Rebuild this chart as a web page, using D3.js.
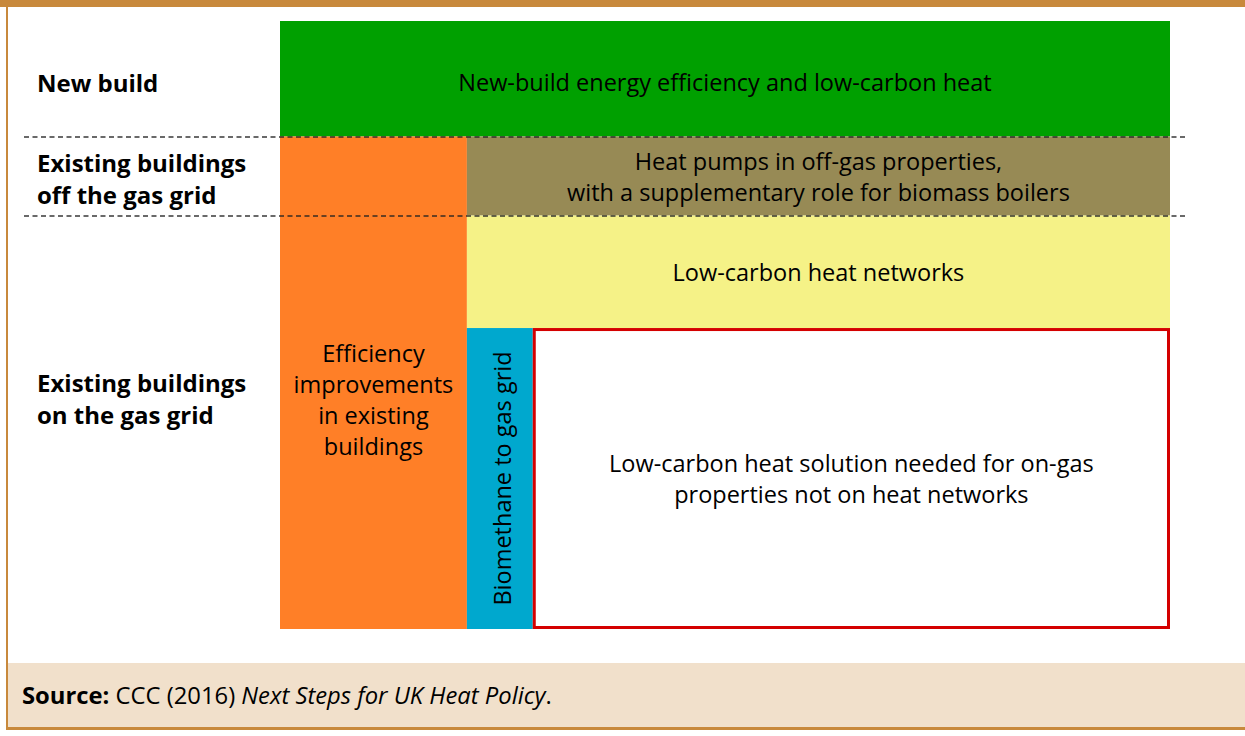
<!DOCTYPE html>
<html>
<head>
<meta charset="utf-8">
<script src="https://cdn.jsdelivr.net/npm/d3@7"></script>
<style>
  html, body { margin: 0; padding: 0; background: #fff; }
  svg { display: block; }
  text { font-family: "Open Sans", "DejaVu Sans", sans-serif; fill: #000; }
</style>
</head>
<body>
<svg id="chart" width="1245" height="736"></svg>
<script>
// ---- Data ----
const rowLabels = [
  ["New build"],
  ["Existing buildings", "off the gas grid"],
  ["Existing buildings", "on the gas grid"]
];
// row boundaries (share of diagram height, 0-100)
const rowBreaks = [0, 19, 32, 100];

const blockNames = ["newbuild", "efficiency", "heatpumps", "networks", "biomethane", "solution"];
const blockX0 = [0, 0, 21, 21, 21, 28.4];
const blockX1 = [100, 21, 100, 100, 28.4, 100];
const blockY0 = [0, 19, 19, 32, 50.5, 50.5];
const blockY1 = [19, 100, 32, 50.5, 100, 100];
const blockColors = ["#00A000", "#FF7F27", "#978A55", "#F5F287", "#00A8CE", "#FFFFFF"];
const blockText = [
  ["New-build energy efficiency and low-carbon heat"],
  ["Efficiency", "improvements", "in existing", "buildings"],
  ["Heat pumps in off-gas properties,", "with a supplementary role for biomass boilers"],
  ["Low-carbon heat networks"],
  ["Biomethane to gas grid"],
  ["Low-carbon heat solution needed for on-gas", "properties not on heat networks"]
];
const blockVertical = [false, false, false, false, true, false];
const blockOutline = [null, null, null, null, null, "#D40000"];
const sourceLabel = "Source:";
const sourceText = "CCC (2016) ";
const sourceTitle = "Next Steps for UK Heat Policy";

// ---- Layout ----
const svg = d3.select("#chart");
const W = 1245, H = 736;
const border = "#C8893C";

const x = d3.scaleLinear().domain([0, 100]).range([280, 1170]);
const y = d3.scaleLinear().domain([0, 100]).range([21, 629]);

// frame
svg.append("rect").attr("x", 0).attr("y", 0).attr("width", W).attr("height", 7).attr("fill", border);
svg.append("rect").attr("x", 8).attr("y", 663).attr("width", W - 8).attr("height", 65).attr("fill", "#F1E0CB");
svg.append("rect").attr("x", 6).attr("y", 0).attr("width", 2).attr("height", 730).attr("fill", border);
svg.append("rect").attr("x", 6).attr("y", 727).attr("width", W - 6).attr("height", 3).attr("fill", border);

// blocks
const blocks = blockNames.map((n, i) => ({
  name: n, x0: blockX0[i], x1: blockX1[i], y0: blockY0[i], y1: blockY1[i],
  color: blockColors[i], text: blockText[i], vertical: blockVertical[i], outline: blockOutline[i]
}));

const g = svg.append("g");
g.selectAll("rect.block").data(blocks).join("rect")
  .attr("class", "block")
  .attr("x", d => x(d.x0) + (d.outline ? 1.5 : 0))
  .attr("y", d => y(d.y0) + (d.outline ? 1.5 : 0))
  .attr("width", d => x(d.x1) - x(d.x0) - (d.outline ? 3 : 0))
  .attr("height", d => y(d.y1) - y(d.y0) - (d.outline ? 3 : 0))
  .attr("fill", d => d.color)
  .attr("stroke", d => d.outline || "none")
  .attr("stroke-width", d => d.outline ? 3 : 0);

// dashed row separators
g.selectAll("line.sep").data(rowBreaks.slice(1, -1)).join("line")
  .attr("class", "sep")
  .attr("x1", 24).attr("x2", 1188)
  .attr("y1", d => y(d) + 0.5).attr("y2", d => y(d) + 0.5)
  .attr("stroke", "#222").attr("stroke-opacity", 0.9)
  .attr("stroke-width", 1.6).attr("stroke-dasharray", "5,3.5");

// row labels
const rowLineH = 32;
const rowMid = rowLabels.map((lines, i) => {
  if (i === 2) return 408;
  const cy = (y(rowBreaks[i]) + y(rowBreaks[i + 1])) / 2;
  return cy + (i === 0 ? 13 : 11.5);
});
rowLabels.forEach((lines, i) => {
  const n = lines.length;
  const t = svg.append("text")
    .style("font-size", "24px").style("font-weight", "bold");
  lines.forEach((line, j) => {
    t.append("tspan").attr("x", 37).attr("y", rowMid[i] - (n - 1) * rowLineH / 2 + j * rowLineH).text(line);
  });
});

// block labels
const lineH = 31;
const fs = 23.5;
blocks.forEach(d => {
  const cx = (x(d.x0) + x(d.x1)) / 2;
  const cy = (y(d.y0) + y(d.y1)) / 2;
  const n = d.text.length;
  if (d.vertical) {
    g.append("text")
      .attr("transform", `translate(${cx + 11},${cy}) rotate(-90)`)
      .attr("text-anchor", "middle")
      .style("font-size", fs + "px")
      .text(d.text[0]);
  } else {
    let mid = cy + 9;
    if (d.name === "newbuild") mid = cy + 12;
    if (d.name === "efficiency") mid = rowMid[2];
    const t = g.append("text")
      .attr("text-anchor", "middle")
      .style("font-size", fs + "px");
    d.text.forEach((line, i) => {
      t.append("tspan").attr("x", cx).attr("y", mid - (n - 1) * lineH / 2 + i * lineH).text(line);
    });
  }
});

// source
const st = svg.append("text").attr("x", 22).attr("y", 704).style("font-size", "23.8px");
st.append("tspan").style("font-weight", "bold").text(sourceLabel + " ");
st.append("tspan").text(sourceText);
st.append("tspan").style("font-style", "italic").text(sourceTitle);
st.append("tspan").text(".");
</script>
</body>
</html>
